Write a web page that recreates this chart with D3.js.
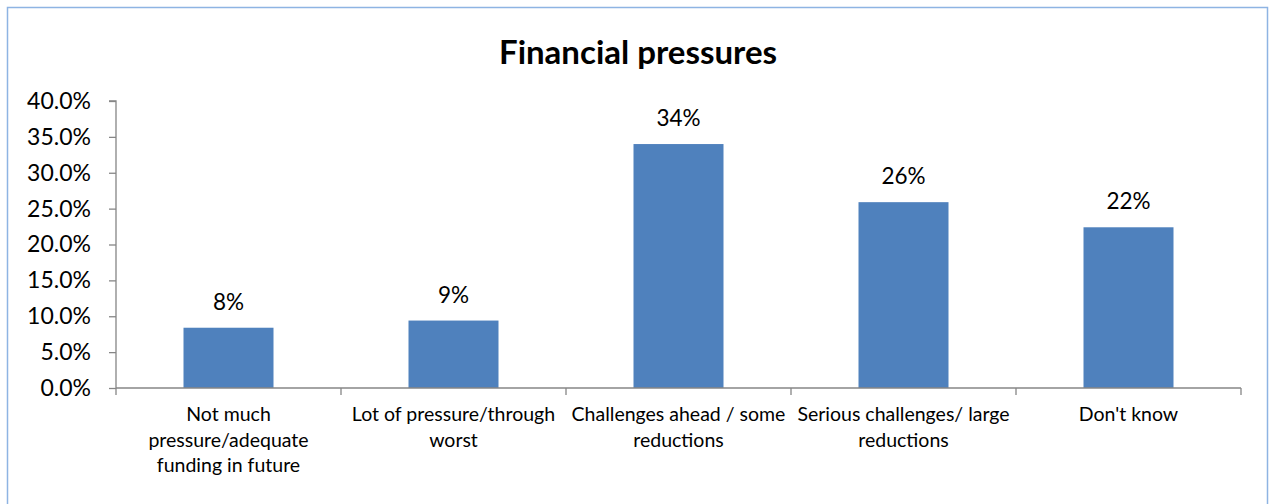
<!DOCTYPE html>
<html><head><meta charset="utf-8">
<script src="https://cdn.jsdelivr.net/npm/d3@7"></script>
<style>body{margin:0;background:#fff;}svg{display:block;font-family:Lato,"Open Sans",sans-serif;}</style>
</head><body>
<svg id="c" width="1269" height="504"></svg>
<script>
const categories = [
  ["Not much", "pressure/adequate", "funding in future"],
  ["Lot of pressure/through", "worst"],
  ["Challenges ahead / some", "reductions"],
  ["Serious challenges/ large", "reductions"],
  ["Don't know"]
];
const values = [8.4, 9.4, 34.0, 25.9, 22.4];
const valueLabels = ["8%", "9%", "34%", "26%", "22%"];
const yTicks = [0, 5, 10, 15, 20, 25, 30, 35, 40];
const title = "Financial pressures";

(function () {
const svg = d3.select("#c");
svg.append("rect").attr("x", 7.5).attr("y", 7.5).attr("width", 1260).attr("height", 520)
  .attr("fill", "#fff").attr("stroke", "#8EB4E3").attr("stroke-width", 1.5);

const pL = 116, pR = 1241, pT = 101, pB = 388;
const x = d3.scaleBand().domain(d3.range(categories.length)).range([pL, pR]).paddingInner(0.6).paddingOuter(0.3);
const y = d3.scaleLinear().domain([0, 40]).range([pB, pT]);

svg.append("text").attr("x", 638).attr("y", 64).attr("text-anchor", "middle")
  .attr("font-size", 33).attr("font-weight", "bold").attr("fill", "#000").text(title);

// y axis
const ya = svg.append("g").attr("transform", `translate(${pL},0)`)
  .call(d3.axisLeft(y).tickValues(yTicks).tickSize(7).tickPadding(18).tickFormat(d => d.toFixed(1) + "%"));
ya.selectAll("path,line").attr("stroke", "#868686").attr("stroke-width", 1.3);
ya.select("path").attr("d", `M-7,${pT}H0V${pB}`);
ya.selectAll("text").attr("font-size", 23).attr("fill", "#000").attr("font-family", "Lato");

// bars
svg.selectAll("rect.bar").data(values).join("rect").attr("class", "bar")
  .attr("x", (d, i) => x(i)).attr("width", x.bandwidth())
  .attr("y", d => y(d)).attr("height", d => pB - y(d)).attr("fill", "#4F81BD");

svg.selectAll("text.val").data(values).join("text").attr("class", "val")
  .attr("x", (d, i) => x(i) + x.bandwidth() / 2).attr("y", d => y(d) - 18)
  .attr("text-anchor", "middle").attr("font-size", 22.5).attr("fill", "#000")
  .text((d, i) => valueLabels[i]);

// x axis
const step = x.step();
const xa = svg.append("g");
xa.append("line").attr("x1", pL).attr("x2", pR).attr("y1", pB).attr("y2", pB)
  .attr("stroke", "#868686").attr("stroke-width", 1.3);
xa.selectAll("line.tick").data(d3.range(categories.length + 1)).join("line").attr("class", "tick")
  .attr("x1", i => i === 0 ? pL : x(i - 1) + x.bandwidth() / 2 + step / 2)
  .attr("x2", i => i === 0 ? pL : x(i - 1) + x.bandwidth() / 2 + step / 2)
  .attr("y1", pB).attr("y2", pB + 7).attr("stroke", "#868686").attr("stroke-width", 1.3);

categories.forEach((lines, i) => {
  const t = svg.append("text").attr("text-anchor", "middle").attr("font-size", 19.5).attr("fill", "#000");
  lines.forEach((l, j) => {
    t.append("tspan").attr("x", x(i) + x.bandwidth() / 2).attr("y", 421 + j * 25.5).text(l);
  });
});
})();
</script>
</body></html>
